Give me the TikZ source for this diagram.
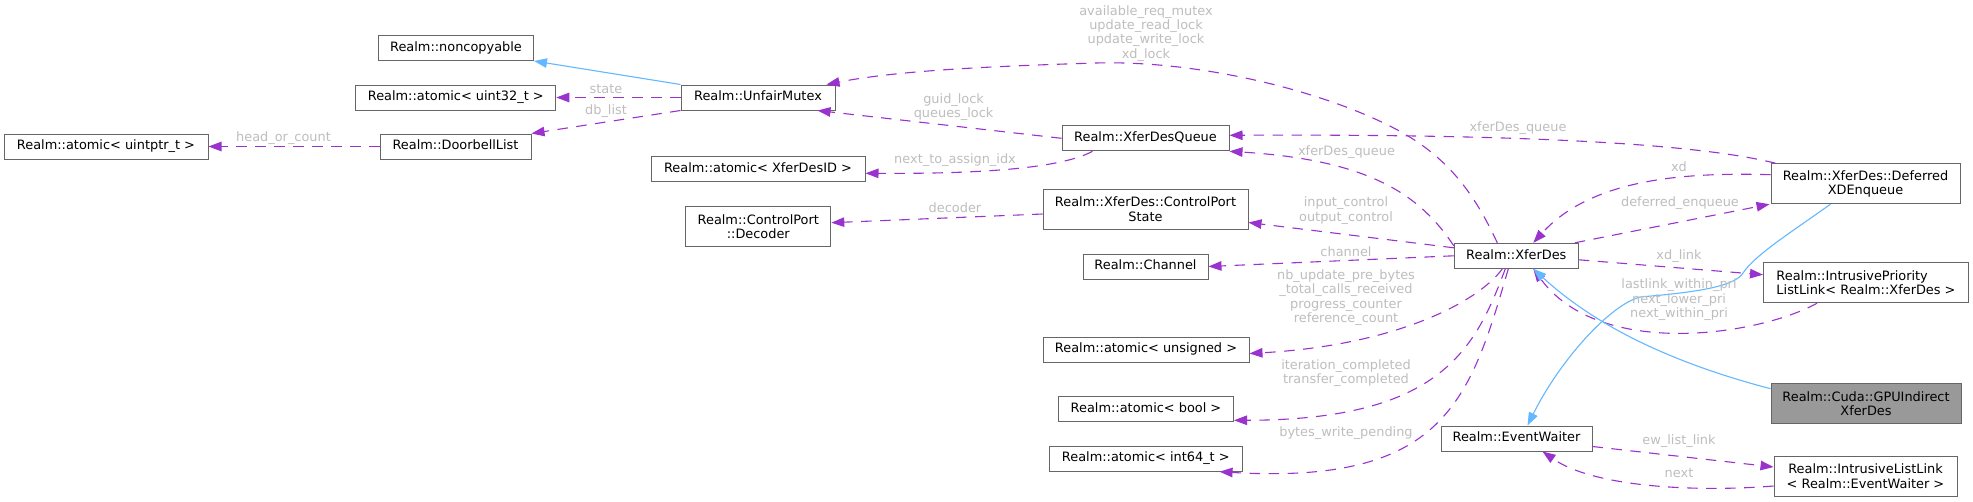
\documentclass[tikz,border=0pt]{standalone}
\usepackage{fontspec}
\setmainfont{DejaVu Sans}
\usetikzlibrary{arrows.meta}
\definecolor{edgep}{HTML}{9A32CD}
\definecolor{edgeb}{HTML}{63B8FF}
\definecolor{lblc}{HTML}{BEBEBE}
\definecolor{bord}{HTML}{666666}
\definecolor{curfill}{HTML}{999999}
\begin{document}
\begin{tikzpicture}[x=1pt,y=-1pt,
  font=\fontsize{12.9}{14.4}\selectfont,
  cls/.style={draw=bord, line width=1pt, fill=white, inner sep=0pt, text height=9.5pt, text depth=3pt, minimum height=25pt},
  mcls/.style={draw=bord, line width=1pt, fill=white, inner sep=0pt, align=center, minimum height=40pt},
  use/.style={draw=edgep, line width=1.1pt, dash pattern=on 10.5pt off 8.5pt, -{Triangle[length=13pt,width=9.5pt]}},
  inh/.style={draw=edgeb, line width=1.1pt, -{Triangle[length=13pt,width=9.5pt]}},
  lbl/.style={text=lblc, inner sep=0pt, align=center},
]
\fill[white] (0,0) rectangle (1973,501);
\useasboundingbox (0,0) rectangle (1973,501);

% nodes
\node[cls, minimum width=155pt] (noncopyable) at (456,48) {Realm::noncopyable};
\node[cls, minimum width=200pt] (atomU32) at (455.8,97.5) {Realm::atomic< uint32\_t >};
\node[cls, minimum width=154pt] (mutex) at (758,97.5) {Realm::UnfairMutex};
\node[cls, minimum width=204pt] (atomUptr) at (106,146.5) {Realm::atomic< uintptr\_t >};
\node[cls, minimum width=151pt] (doorbell) at (455.5,146.5) {Realm::DoorbellList};
\node[cls, minimum width=167pt] (xdq) at (1145.5,138.3) {Realm::XferDesQueue};
\node[cls, minimum width=214pt] (atomID) at (758,169.3) {Realm::atomic< XferDesID >};
\node[mcls, minimum width=145pt] (decoder) at (758.3,226.7) {Realm::ControlPort\\::Decoder};
\node[mcls, minimum width=205pt] (cps) at (1145.5,209) {Realm::XferDes::ControlPort\\State};
\node[cls, minimum width=125pt] (channel) at (1145.5,266.5) {Realm::Channel};
\node[cls, minimum width=206pt] (atomUns) at (1146,349.5) {Realm::atomic< unsigned >};
\node[cls, minimum width=175pt] (atomBool) at (1146,409.3) {Realm::atomic< bool >};
\node[cls, minimum width=192.5pt] (atomI64) at (1145.8,458.7) {Realm::atomic< int64\_t >};
\node[cls, minimum width=124pt] (xd) at (1516.3,255.8) {Realm::XferDes};
\node[mcls, minimum width=189pt] (dxe) at (1865.5,183.7) {Realm::XferDes::Deferred\\XDEnqueue};
\node[mcls, minimum width=205pt, align=left] (ipll) at (1866,282.7) {Realm::IntrusivePriority\\ListLink< Realm::XferDes >};
\node[mcls, minimum width=190pt, fill=curfill] (gpu) at (1866,403.7) {Realm::Cuda::GPUIndirect\\XferDes};
\node[cls, minimum width=151pt] (ew) at (1516.5,438.5) {Realm::EventWaiter};
\node[mcls, minimum width=183pt] (ill) at (1865.5,476) {Realm::IntrusiveListLink\\< Realm::EventWaiter >};

% edges
\draw[inh] (mutex.north west) -- (noncopyable.south east);
\draw[use] (mutex.west) -- (atomU32.east);
\draw[use] (mutex.south west) -- (doorbell.north east);
\draw[use] (doorbell.west) -- (atomUptr.east);
\draw[use] ([xshift=-19pt]xd.north) .. controls (1475,195) and (1450,160) .. (1403,133)
   .. controls (1330,92) and (1200,60) .. (1096,63)
   .. controls (1000,66) and (900,70) .. ([xshift=-9pt]mutex.north east);
\draw[use] (xdq.west) -- ([xshift=-18pt]mutex.south east);
\draw[use] ([xshift=-53pt]xdq.south) .. controls (1065,166) and (1000,174) .. ([yshift=-4pt]atomID.east);
\draw[use] ([xshift=5pt]dxe.north west) .. controls (1690,142) and (1500,134) .. ([yshift=3pt]xdq.east);
\draw[use] ([yshift=-3pt]xd.north west) .. controls (1420,195) and (1370,160) .. (xdq.south east);
\draw[use] ([yshift=-5pt]cps.west) -- ([yshift=4pt]decoder.east);
\draw[use] ([yshift=-5pt]xd.north west) -- ([yshift=7pt]cps.south east);
\draw[use] (xd.west) -- (channel.east);
\draw[use] ([xshift=-14pt]xd.south) .. controls (1480,300) and (1400,345) .. ([yshift=-4pt]atomUns.east);
\draw[use] ([xshift=-11pt]xd.south) .. controls (1475,350) and (1440,420) .. ([yshift=-11pt]atomBool.east);
\draw[use] ([xshift=-8pt]xd.south) .. controls (1470,400) and (1445,485) .. ([xshift=-23pt]atomI64.south east);
\draw[use] ([xshift=-4pt]xd.north east) -- ([xshift=-1pt]dxe.south west);
\draw[use] ([yshift=9pt]dxe.west) .. controls (1680,172) and (1590,180) .. ([xshift=17pt]xd.north);
\draw[use] ([yshift=-4pt]xd.east) -- ([yshift=8pt]ipll.west);
\draw[use] ([xshift=-49pt]ipll.south) .. controls (1760,335) and (1600,360) .. ([xshift=17pt]xd.south);
\draw[inh] ([xshift=-35pt]dxe.south) .. controls (1790,233) and (1755,255) .. (1743,273)
   .. controls (1735,286) and (1700,292) .. (1640,297)
   .. controls (1610,305) and (1560,360) .. ([xshift=11pt]ew.north);
\draw[inh] ([yshift=15pt]gpu.west) .. controls (1680,365) and (1600,330) .. ([xshift=17pt]xd.south);
\draw[use] ([yshift=-8pt]ew.east) -- ([yshift=9pt]ill.west);
\draw[use] ([yshift=-10pt]ill.west) .. controls (1700,492) and (1595,488) .. ([xshift=26pt]ew.south);

% labels
\node[lbl] (l1) at (606,89) {state};
\node[lbl] (l2) at (606,111) {db\_list};
\node[lbl] (l3) at (283.5,137.7) {head\_or\_count};
\node[lbl] (l4) at (1146,33.4) {available\_req\_mutex\\update\_read\_lock\\update\_write\_lock\\xd\_lock};
\node[lbl] (l5) at (953.6,107.2) {guid\_lock\\queues\_lock};
\node[lbl] (l6) at (955,160) {next\_to\_assign\_idx};
\node[lbl] (l7) at (1518,127.7) {xferDes\_queue};
\node[lbl] (l8) at (1346.5,151.7) {xferDes\_queue};
\node[lbl] (l9) at (955,207.7) {decoder};
\node[lbl] (l10) at (1346,210.5) {input\_control\\output\_control};
\node[lbl] (l11) at (1346,251.5) {channel};
\node[lbl] (l12) at (1346,297.5) {nb\_update\_pre\_bytes\\{}\_total\_calls\_received\\progress\_counter\\reference\_count};
\node[lbl] (l13) at (1346,373) {iteration\_completed\\transfer\_completed};
\node[lbl] (l14) at (1346,432.7) {bytes\_write\_pending};
\node[lbl] (l15) at (1679,166.7) {xd};
\node[lbl] (l16) at (1680,203.3) {deferred\_enqueue};
\node[lbl] (l17) at (1679,255.7) {xd\_link};
\node[lbl] (l18) at (1679,300) {lastlink\_within\_pri\\next\_lower\_pri\\next\_within\_pri};
\node[lbl] (l19) at (1679,440.7) {ew\_list\_link};
\node[lbl] (l20) at (1679,472.7) {next};
\end{tikzpicture}
\end{document}
